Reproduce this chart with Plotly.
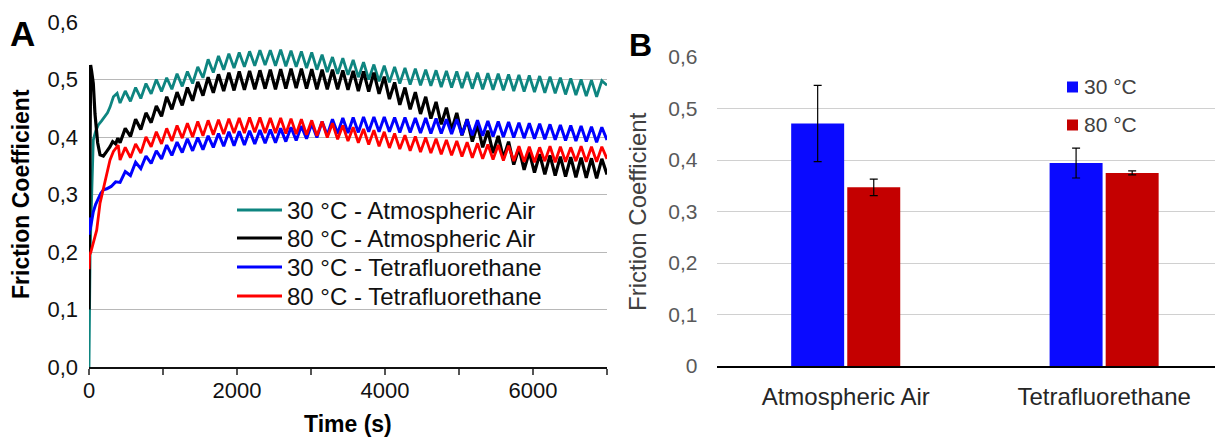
import plotly.graph_objects as go

# the page adds an 8 px body margin, so the figure is 8 px smaller
# and every screen position below is shifted by that amount
OFF = 8
W, H = 1223 - OFF, 437 - OFF

# ---- panel A: friction coefficient vs time ----
# start-up part of each curve (read point by point)
teal_t0 = [0, 15, 36, 58, 90, 126, 170, 216, 250, 284, 330, 380]
teal_y0 = [0.0, 0.20, 0.296, 0.395, 0.410, 0.421, 0.428, 0.435, 0.442, 0.452, 0.470, 0.476]
black_t0 = [0, 12, 22, 35, 58, 81, 117, 149, 194, 240, 284, 320, 360, 390]
black_y0 = [0.10, 0.40, 0.525, 0.515, 0.493, 0.440, 0.390, 0.369, 0.367, 0.375, 0.383, 0.392, 0.388, 0.398]
blue_t0 = [0, 8, 14, 35, 58, 90, 126, 160, 194, 240, 300, 360]
blue_y0 = [0.23, 0.26, 0.238, 0.255, 0.270, 0.283, 0.293, 0.302, 0.308, 0.310, 0.314, 0.322]
red_t0 = [0, 8, 25, 58, 104, 149, 216, 284, 330, 370, 395]
red_y0 = [0.17, 0.195, 0.200, 0.215, 0.238, 0.285, 0.325, 0.360, 0.375, 0.382, 0.386]

# oscillating part: troughs and peaks
t_osc = [420, 490, 560, 630, 700, 770, 840, 910, 980, 1050,
         1120, 1190, 1260, 1330, 1400, 1470, 1540, 1610, 1680, 1750,
         1820, 1890, 1960, 2030, 2100, 2170, 2240, 2310, 2380, 2450,
         2520, 2590, 2660, 2730, 2800, 2870, 2940, 3010, 3080, 3150,
         3220, 3290, 3360, 3430, 3500, 3570, 3640, 3710, 3780, 3850,
         3920, 3990, 4060, 4130, 4200, 4270, 4340, 4410, 4480, 4550,
         4620, 4690, 4760, 4830, 4900, 4970, 5040, 5110, 5180, 5250,
         5320, 5390, 5460, 5530, 5600, 5670, 5740, 5810, 5880, 5950,
         6020, 6090, 6160, 6230, 6300, 6370, 6440, 6510, 6580, 6650,
         6720, 6790, 6860, 6930, 7000]

teal_osc = [.459, .480, .462, .486, .467, .493, .475, .500, .479, .503,
            .483, .510, .488, .514, .493, .522, .503, .535, .512, .541,
            .517, .545, .520, .547, .522, .549, .524, .551, .525, .551,
            .524, .552, .523, .550, .522, .549, .520, .547, .517, .543,
            .513, .539, .510, .537, .508, .534, .504, .530, .500, .526,
            .497, .524, .495, .522, .493, .520, .491, .519, .490, .517,
            .489, .516, .487, .515, .486, .514, .485, .513, .484, .512,
            .483, .511, .482, .510, .481, .509, .480, .508, .479, .507,
            .478, .506, .477, .505, .476, .503, .474, .502, .473, .500,
            .471, .499, .470, .498, .490]

black_osc = [.390, .415, .401, .431, .413, .442, .425, .454, .436, .470,
             .448, .478, .455, .486, .463, .496, .472, .504, .477, .509,
             .480, .512, .481, .514, .482, .515, .483, .516, .484, .517,
             .483, .518, .484, .519, .485, .519, .484, .518, .483, .517,
             .483, .517, .483, .516, .482, .515, .480, .514, .479, .512,
             .475, .505, .466, .495, .456, .486, .448, .478, .440, .470,
             .432, .461, .422, .451, .412, .442, .403, .431, .392, .421,
             .382, .411, .372, .402, .363, .392, .352, .381, .343, .374,
             .338, .370, .335, .368, .333, .366, .331, .365, .330, .364,
             .329, .363, .328, .362, .335]

blue_osc = [.321, .340, .333, .356, .345, .367, .354, .376, .362, .386,
            .368, .391, .373, .397, .376, .399, .378, .402, .382, .406,
            .384, .409, .385, .410, .386, .411, .388, .412, .389, .413,
            .390, .415, .392, .417, .394, .419, .397, .423, .399, .427,
            .403, .431, .406, .433, .407, .434, .408, .435, .409, .435,
            .409, .435, .409, .434, .408, .434, .408, .433, .407, .433,
            .406, .432, .406, .431, .405, .431, .404, .430, .403, .429,
            .402, .428, .401, .427, .400, .426, .399, .425, .398, .424,
            .397, .423, .396, .422, .395, .421, .394, .420, .393, .419,
            .392, .418, .391, .417, .395]

red_osc = [.360, .382, .364, .388, .372, .400, .383, .409, .388, .415,
           .393, .420, .398, .424, .400, .427, .402, .429, .404, .430,
           .405, .432, .407, .433, .407, .434, .408, .434, .407, .433,
           .407, .433, .406, .432, .405, .431, .404, .429, .402, .427,
           .399, .424, .396, .420, .393, .417, .390, .414, .387, .412,
           .384, .409, .381, .406, .379, .403, .376, .401, .374, .399,
           .372, .397, .370, .395, .368, .393, .366, .391, .364, .389,
           .362, .387, .361, .386, .359, .385, .358, .384, .357, .383,
           .356, .382, .358, .384, .356, .383, .357, .382, .358, .384,
           .357, .383, .357, .383, .362]

series_a = [
    ("30 °C - Atmospheric Air", teal_t0, teal_y0, teal_osc, "#0e8580", 2.8),
    ("80 °C - Atmospheric Air", black_t0, black_y0, black_osc, "#000000", 3.2),
    ("30 °C - Tetrafluorethane", blue_t0, blue_y0, blue_osc, "#0000ff", 3.0),
    ("80 °C - Tetrafluorethane", red_t0, red_y0, red_osc, "#ff0000", 2.8),
]
a_yticks = [0, 0.1, 0.2, 0.3, 0.4, 0.5, 0.6]
a_yticktext = ["0,0", "0,1", "0,2", "0,3", "0,4", "0,5", "0,6"]
a_xticks = [0, 1000, 2000, 3000, 4000, 5000, 6000, 7000]
a_xticktext = ["0", "", "2000", "", "4000", "", "6000", ""]

# ---- panel B: mean friction coefficient ----
gases = ["Atmospheric Air", "Tetrafluorethane"]
mu_30 = [0.471, 0.394]
err_30 = [0.074, 0.029]
mu_80 = [0.347, 0.375]
err_80 = [0.016, 0.004]
b_yticks = [0, 0.1, 0.2, 0.3, 0.4, 0.5, 0.6]
b_yticktext = ["0", "0,1", "0,2", "0,3", "0,4", "0,5", "0,6"]


def px(x):
    # screen x (pixels) -> paper fraction
    return (x - OFF) / W


def py(y):
    # screen y (pixels from top) -> paper fraction
    return (H - (y - OFF)) / H


FONT = "Arial, Liberation Sans, sans-serif"

fig = go.Figure()

for name, t0, y0, osc, color, lw in series_a:
    fig.add_trace(go.Scatter(
        x=t0 + t_osc, y=y0 + osc, name=name, mode="lines",
        line=dict(color=color, width=lw), showlegend=False,
        xaxis="x", yaxis="y", hoverinfo="skip"))

fig.add_trace(go.Bar(
    x=gases, y=mu_30, name="30 °C", width=0.205, offset=-0.211,
    marker=dict(color="#0a0aff", line=dict(width=0)),
    error_y=dict(type="data", array=err_30, color="black", thickness=1.2, width=4),
    xaxis="x2", yaxis="y2", showlegend=False))
fig.add_trace(go.Bar(
    x=gases, y=mu_80, name="80 °C", width=0.205, offset=0.006,
    marker=dict(color="#c40000", line=dict(width=0)),
    error_y=dict(type="data", array=err_80, color="black", thickness=1.2, width=4),
    xaxis="x2", yaxis="y2", showlegend=False))

fig.update_layout(
    width=W, height=H, autosize=False,
    margin=dict(l=0, r=0, t=0, b=0, autoexpand=False),
    paper_bgcolor="white", plot_bgcolor="white",
    font=dict(family=FONT, color="#1a1a1a"),
    xaxis=dict(domain=[px(89), px(607)], range=[0, 7000], anchor="y",
               automargin=False,
               tickvals=a_xticks, ticktext=a_xticktext,
               ticks="outside", ticklen=6, tickcolor="#555555", tickwidth=1.5,
               ticklabelstandoff=-3,
               showline=True, linecolor="#111111", linewidth=1.5,
               showgrid=False, zeroline=False,
               tickfont=dict(size=22, color="#111111")),
    yaxis=dict(domain=[py(367), py(22)], range=[0, 0.6], anchor="x",
               automargin=False,
               tickvals=a_yticks, ticktext=a_yticktext,
               showgrid=True, gridcolor="#b8b8b8", gridwidth=1,
               zeroline=False, showline=False, ticks="",
               ticklabelstandoff=10,
               tickfont=dict(size=22, color="#111111")),
    xaxis2=dict(domain=[px(716.5), 1.0], type="category", range=[-0.5, 1.46],
                anchor="y2", automargin=False,
                showline=True, linecolor="#000000", linewidth=1.5,
                ticks="", showgrid=False, zeroline=False, ticklabelstandoff=8,
                tickfont=dict(size=24, color="#262626")),
    yaxis2=dict(domain=[py(366), py(57)], range=[0, 0.6], anchor="x2",
                automargin=False,
                tickvals=b_yticks, ticktext=b_yticktext,
                showgrid=True, gridcolor="#d0d0d0", gridwidth=1.2,
                zeroline=False, showline=False, ticks="",
                ticklabelstandoff=18,
                tickfont=dict(size=21, color="#595959")),
)

annotations = [
    dict(x=px(22), y=py(34), text="<b>A</b>", font=dict(size=35, color="black")),
    dict(x=px(640), y=py(45), text="<b>B</b>", font=dict(size=32, color="black")),
    dict(x=px(21), y=py(194), text="<b>Friction Coefficient</b>", textangle=-90,
         font=dict(size=23, color="black")),
    dict(x=px(348), y=py(424), text="<b>Time (s)</b>", font=dict(size=23, color="black")),
    dict(x=px(637), y=py(212), text="Friction Coefficient", textangle=-90,
         font=dict(size=24, color="#404040")),
]

# legend of panel A drawn by hand (long line samples)
shapes = []
leg_y = [210, 238, 267, 296]
for (name, _, _, _, color, lw), yy in zip(series_a, leg_y):
    shapes.append(dict(type="line", xref="paper", yref="paper",
                       x0=px(237), x1=px(282), y0=py(yy), y1=py(yy),
                       line=dict(color=color, width=lw)))
    annotations.append(dict(x=px(285), y=py(yy), text=name, xanchor="left",
                            font=dict(size=24, color="#111111")))

# legend of panel B
for label, color, yy in [("30 °C", "#0a0aff", 87), ("80 °C", "#c40000", 125)]:
    shapes.append(dict(type="rect", xref="paper", yref="paper",
                       x0=px(1067), x1=px(1078), y0=py(yy + 5.5), y1=py(yy - 5.5),
                       fillcolor=color, line=dict(width=0)))
    annotations.append(dict(x=px(1082), y=py(yy), text=label, xanchor="left",
                            font=dict(size=21, color="#404040")))

for a in annotations:
    a.setdefault("xref", "paper")
    a.setdefault("yref", "paper")
    a.setdefault("showarrow", False)
    a.setdefault("xanchor", "center")
    a.setdefault("yanchor", "middle")

fig.update_layout(annotations=annotations, shapes=shapes)

fig.write_html("out.html")
